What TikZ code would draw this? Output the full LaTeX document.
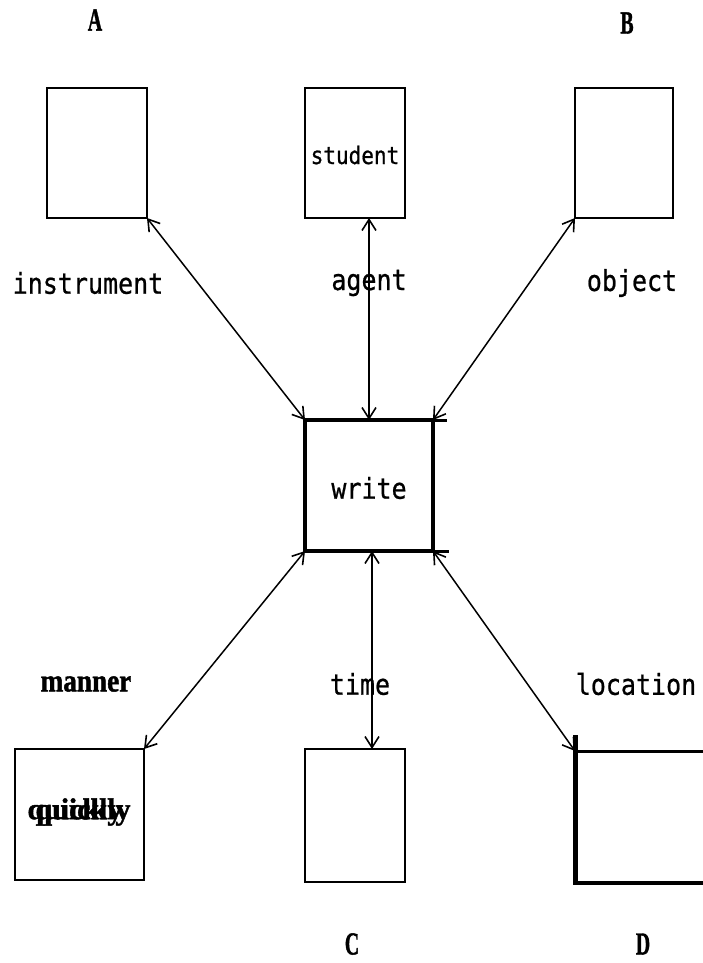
\documentclass[tikz,border=0pt]{standalone}
\usepackage{fontspec}
\setmonofont{DejaVu Sans Mono}[FakeBold=0.8]
\newfontfamily\boldserif{Liberation Serif}[BoldFeatures={FakeBold=1.5}]
\usetikzlibrary{arrows.meta}
\begin{document}
\begin{tikzpicture}[x=1pt,y=-1pt,
  thinbox/.style={draw,line width=1.6pt,inner sep=0pt,outer sep=0pt},
  ghostbox/.style={inner sep=0pt,outer sep=0pt},
  wbox/.style={draw,line width=3.2pt,inner sep=0pt,outer sep=0pt},
  conn/.style={line width=1.5pt,{Straight Barb[length=11pt,width=14pt,line width=1.6pt]}-{Straight Barb[length=11pt,width=14pt,line width=1.6pt]}},
  rel/.style={font=\ttfamily\fontsize{25}{25}\selectfont,inner sep=0pt,yscale=1.15},
  big/.style={font=\boldserif\bfseries\fontsize{32}{32}\selectfont,inner sep=0pt,xscale=0.62},
  qtext/.style={font=\boldserif\bfseries\fontsize{30}{30}\selectfont,inner sep=0pt},
]
\useasboundingbox (0,0) rectangle (703,963);
\fill[white] (0,0) rectangle (703,963);

% boxes
\node[thinbox,minimum width=100pt,minimum height=130pt] (ibox) at (97,153) {};
\node[thinbox,minimum width=100pt,minimum height=130pt] (abox) at (355,153) {};
\node[thinbox,minimum width=98pt,minimum height=130pt] (obox) at (624,153) {};
\node[wbox,minimum width=128pt,minimum height=131pt] (write) at (369,485.5) {};
\node[thinbox,minimum width=129pt,minimum height=131pt] (mbox) at (79.5,814.5) {};
\node[thinbox,minimum width=100pt,minimum height=133pt] (tbox) at (355,815.5) {};
\node[ghostbox,minimum width=140pt,minimum height=132pt] (lbox) at (645,817) {};

% location box partial edges
\draw[line width=3pt] (lbox.north west) -- (lbox.north east);
\draw[line width=5pt] ([yshift=16pt]lbox.north west) -- ([yshift=-2pt]lbox.south west);
\draw[line width=4pt] (lbox.south west) -- (lbox.south east);

% write box edge extensions
\coordinate (wne) at ([xshift=14pt]write.north east);
\coordinate (wse) at ([xshift=16pt]write.south east);
\draw[line width=3pt] (write.north east) -- (wne);
\draw[line width=3pt] (write.south east) -- (wse);

% texts in boxes
\node[rel,font=\ttfamily\fontsize{21}{21}\selectfont] (stud) at (355,155) {student};
\node[rel] (wr) at (369,488) {write};
\node[qtext] (q1) at (75,812) {quickly};
\node[qtext] (q2) at (83,812) {quickly};

% connectors
\draw[conn] (ibox.south east) -- (write.north west);
\draw[conn] (write.north |- abox.south) -- (write.north);
\draw[conn] (obox.south west) -- (write.north east);
\draw[conn] (mbox.north east) -- (write.south west);
\draw[conn] ([xshift=3pt]write.south) -- ([xshift=3pt]write.south |- tbox.north);
\draw[conn] (lbox.north west) -- (write.south east);

% relation labels
\node[rel] (linst) at (88,283) {instrument};
\node[rel] (lagent) at (369,283) {agent};
\node[rel] (lobj) at (632,283) {object};
\node[rel] (ltime) at (360,684) {time};
\node[rel] (lloc) at (636,684) {location};
\node[big,xscale=0.85/0.62] (lman) at (86,684) {manner};

% corner letters
\node[big] (la) at (95,20) {A};
\node[big] (lb) at (627,23) {B};
\node[big] (lc) at (352,944) {C};
\node[big] (ld) at (643,944) {D};
\end{tikzpicture}
\end{document}
